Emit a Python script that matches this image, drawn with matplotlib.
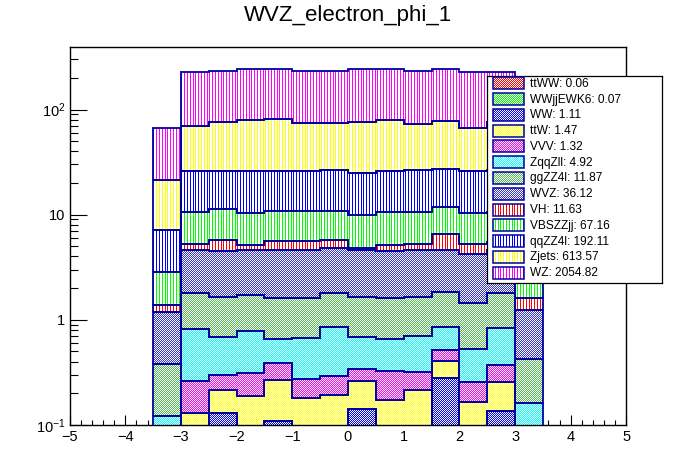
import numpy as np
import matplotlib
matplotlib.use("Agg")
import matplotlib.pyplot as plt
import matplotlib.colors as mcolors
from matplotlib.patches import Rectangle
from matplotlib.ticker import FixedLocator, FixedFormatter, MultipleLocator, NullFormatter

plt.rcParams['font.family'] = ['Liberation Sans', 'DejaVu Sans']
plt.rcParams['mathtext.fontset'] = 'custom'
plt.rcParams['mathtext.rm'] = 'Liberation Sans'
plt.rcParams['mathtext.it'] = 'Liberation Sans:italic'

# ---------------- data ----------------
edges = [-3.5, -3.0, -2.5, -2.0, -1.5, -1.0, -0.5, 0.0, 0.5, 1.0, 1.5, 2.0, 2.5, 3.0, 3.5]

ttWW     = [0.000, 0.004, 0.004, 0.004, 0.004, 0.004, 0.004, 0.004, 0.004, 0.004, 0.004, 0.004, 0.004, 0.000]
WWjjEWK6 = [0.000, 0.005, 0.005, 0.005, 0.005, 0.005, 0.005, 0.005, 0.005, 0.005, 0.005, 0.005, 0.005, 0.000]
WW       = [0.000, 0.000, 0.121, 0.000, 0.100, 0.000, 0.000, 0.133, 0.000, 0.000, 0.267, 0.000, 0.127, 0.000]
ttW      = [0.000, 0.120, 0.085, 0.181, 0.155, 0.172, 0.184, 0.120, 0.164, 0.206, 0.131, 0.155, 0.118, 0.000]
VVV      = [0.000, 0.133, 0.080, 0.123, 0.125, 0.089, 0.100, 0.079, 0.149, 0.100, 0.103, 0.090, 0.119, 0.000]
ZqqZll   = [0.120, 0.559, 0.388, 0.461, 0.270, 0.398, 0.564, 0.342, 0.327, 0.389, 0.340, 0.267, 0.466, 0.162]
ggZZ4l   = [0.260, 0.990, 0.957, 0.956, 0.961, 0.952, 0.953, 0.967, 0.951, 0.946, 0.970, 0.929, 0.971, 0.263]
WVZ      = [0.80, 2.83, 2.83, 2.91, 2.95, 2.95, 3.04, 2.92, 2.87, 2.92, 2.82, 2.80, 2.76, 0.82]
VH       = [0.21, 0.65, 1.31, 0.54, 1.00, 1.00, 0.84, 0.24, 0.71, 0.64, 1.95, 0.96, 0.88, 0.375]
VBSZZjj  = [1.48, 5.41, 5.42, 5.22, 5.33, 5.33, 5.21, 5.19, 5.42, 5.39, 5.11, 5.19, 5.25, 1.38]
qqZZ4l   = [4.33, 15.5, 15.0, 15.8, 15.3, 15.0, 15.7, 15.1, 15.3, 15.8, 15.7, 15.5, 15.7, 4.5]
Zjets    = [14.3, 44.2, 50.7, 54.1, 55.9, 49.3, 48.6, 51.1, 53.2, 47.2, 50.5, 40.9, 49.2, 14.5]
WZ       = [45.9, 159.7, 158.3, 163.3, 161.5, 157.9, 160.0, 165.8, 162.9, 159.5, 164.1, 161.2, 152.4, 46.0]

names  = ["ttWW", "WWjjEWK6", "WW", "ttW", "VVV", "ZqqZll", "ggZZ4l", "WVZ",
          "VH", "VBSZZjj", "qqZZ4l", "Zjets", "WZ"]
yields = [0.06, 0.07, 1.11, 1.47, 1.32, 4.92, 11.87, 36.12,
          11.63, 67.16, 192.11, 613.57, 2054.82]
series = [ttWW, WWjjEWK6, WW, ttW, VVV, ZqqZll, ggZZ4l, WVZ,
          VH, VBSZZjj, qqZZ4l, Zjets, WZ]

title = "WVZ_electron_phi_1"

# ---------------- styles ----------------
styles = [("check1", "#ff0000"), ("check1", "#00ff00"), ("check1", "#0000ff"),
          ("check1", "#ffff00"), ("check1", "#ff00ff"), ("check1", "#00ffff"),
          ("check1", "#55bb55"), ("check1", "#3333cc"),
          ("vline", "#ff0000"), ("vline", "#00ff00"), ("vline", "#0000ff"),
          ("vline", "#ffff00"), ("vline", "#ff00ff")]
edgec = "#0000a0"


def pattern(kind, color, w, h):
    rgb = np.array(mcolors.to_rgb(color))
    arr = np.ones((h, w, 3))
    i, j = np.mgrid[0:h, 0:w]
    if kind == "check1":
        mask = (i + j) % 2 == 0
    else:
        mask = (np.floor((j + 1) / 2.8) - np.floor(j / 2.8)) > 0
    arr[mask] = rgb
    return arr


W, H = 696, 472
fig = plt.figure(figsize=(W / 100, H / 100), dpi=100)
ax = fig.add_axes([0.1, 0.1, 0.8, 0.8])
ax.set_yscale("log")
ax.set_xlim(-5, 5)
ax.set_ylim(0.1, 392)
ax.set_autoscale_on(False)

aw, ah = int(round(0.8 * W)), int(round(0.8 * H))

cum_low = np.zeros(len(edges) - 1)
for k, vals in enumerate(series):
    cum_up = cum_low + np.array(vals)
    lo = np.maximum(cum_low, 1e-3)
    up = np.maximum(cum_up, 1e-3)
    patch = ax.stairs(up, edges, baseline=lo, fill=True, facecolor="none",
                      edgecolor=edgec, linewidth=1.3, zorder=5)
    kind, col = styles[k]
    im = ax.imshow(pattern(kind, col, aw, ah), extent=(0, 1, 0, 1),
                   transform=ax.transAxes, interpolation="nearest",
                   aspect="auto", zorder=2)
    im.set_clip_path(patch)
    cum_low = cum_up

ax.set_xlim(-5, 5)
ax.set_ylim(0.1, 392)

# axes styling
for s in ax.spines.values():
    s.set_linewidth(1.0)
    s.set_color("black")
ax.xaxis.set_major_locator(MultipleLocator(1))
ax.xaxis.set_minor_locator(MultipleLocator(0.2))
ax.yaxis.set_major_locator(FixedLocator([0.1, 1, 10, 100]))
ax.yaxis.set_major_formatter(FixedFormatter([r"$10^{-1}$", "1", "10", r"$10^{2}$"]))
minors = [m * 10.0 ** e for e in (-1, 0, 1, 2) for m in range(2, 10)]
ax.yaxis.set_minor_locator(FixedLocator([v for v in minors if v < 392]))
ax.yaxis.set_minor_formatter(NullFormatter())
ax.tick_params(axis="x", which="major", direction="in", length=7.4, width=0.8,
               labelsize=10.5, pad=4, top=False)
ax.tick_params(axis="x", which="minor", direction="in", length=3.8, width=0.8, top=False)
ax.tick_params(axis="y", which="major", direction="in", length=12.5, width=0.8,
               labelsize=10.5, pad=3, right=False)
ax.tick_params(axis="y", which="minor", direction="in", length=5.8, width=0.8, right=False)

fig.text(0.5, 1 - 21 / H, title, ha="center", va="baseline", fontsize=16)

# ---------------- legend ----------------
lx0, lx1, ly0, ly1 = 487, 662, 76, 283
lax = fig.add_axes([lx0 / W, 1 - ly1 / H, (lx1 - lx0) / W, (ly1 - ly0) / H])
lw_, lh_ = lx1 - lx0, ly1 - ly0
lax.set_xlim(0, lw_)
lax.set_ylim(lh_, 0)
lax.set_autoscale_on(False)
lax.set_xticks([])
lax.set_yticks([])
for s in lax.spines.values():
    s.set_linewidth(0.9)
    s.set_color("black")
lax.set_zorder(10)
for r, (name, yv) in enumerate(zip(names, yields)):
    cy = 7.3 + r * 15.78
    x0, x1 = 6, 37
    y0 = int(round(cy - 6))
    y1 = y0 + 12
    kind, col = styles[r]
    rect = Rectangle((x0, y0), x1 - x0, y1 - y0, facecolor="none",
                     edgecolor=edgec, linewidth=1.1, zorder=3)
    lax.add_patch(rect)
    im = lax.imshow(pattern(kind, col, lw_, lh_), extent=(0, 1, 0, 1),
                    transform=lax.transAxes, interpolation="nearest",
                    aspect="auto", zorder=2)
    im.set_clip_path(rect)
    lax.text(43, cy + 0.5, f"{name}: {yv:.2f}", va="center", ha="left", fontsize=8.6)
lax.set_xlim(0, lw_)
lax.set_ylim(lh_, 0)

fig.savefig("out.png", dpi=100)
